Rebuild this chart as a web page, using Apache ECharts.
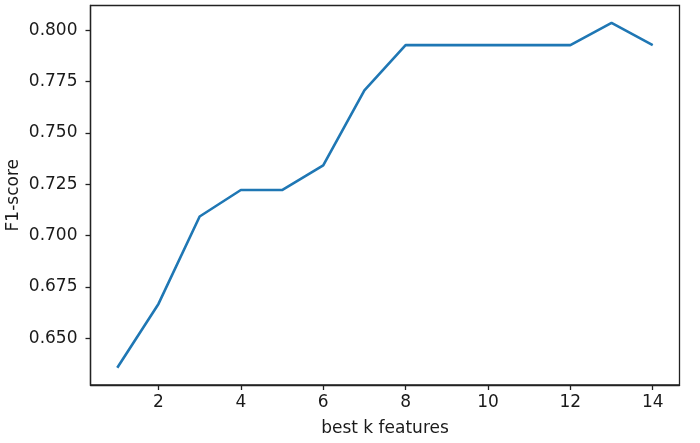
<!DOCTYPE html>
<html>
<head>
<meta charset="utf-8">
<script src="https://cdn.jsdelivr.net/npm/echarts@6/dist/echarts.min.js"></script>
<style>html,body{margin:0;padding:0;background:#fff;}#c{width:700px;height:443px;}</style>
</head>
<body>
<div id="c"></div>
<script>
const kValues = [1,2,3,4,5,6,7,8,9,10,11,12,13,14];
const f1Scores = [0.6356,0.6667,0.7093,0.7222,0.7222,0.7342,0.7708,0.7928,0.7928,0.7928,0.7928,0.7928,0.8036,0.7928];
const xTicks = [2,4,6,8,10,12,14];
const yTicks = [0.650,0.675,0.700,0.725,0.750,0.775,0.800];

const chart = echarts.init(document.getElementById('c'), null, {renderer:'canvas'});
const font = 'DejaVu Sans';
chart.setOption({
  animation: false,
  backgroundColor: '#fff',
  grid: {left: 90.5, top: 5.5, right: 20.5, bottom: 58, containLabel: false, outerBoundsMode: 'none',
    show: true, borderColor: '#222', borderWidth: 1.3, backgroundColor: 'transparent'},
  xAxis: {
    type: 'value', min: 0.35, max: 14.65,
    name: 'best k features', nameLocation: 'middle', nameGap: 35, nameMoveOverlap: false,
    nameTextStyle: {fontFamily: font, fontSize: 17, color: '#1a1a1a'},
    axisLine: {show: true, lineStyle: {color: '#222', width: 1.3}},
    axisTick: {show: true, length: 5, customValues: xTicks, lineStyle: {color: '#222', width: 1.3}},
    axisLabel: {customValues: xTicks, fontFamily: font, fontSize: 17, color: '#1a1a1a', margin: 9},
    splitLine: {show: false}
  },
  yAxis: {
    type: 'value', min: 0.6272, max: 0.8121,
    name: 'F1-score', nameLocation: 'middle', nameGap: 68, nameRotate: 90, nameMoveOverlap: false,
    nameTextStyle: {fontFamily: font, fontSize: 17, color: '#1a1a1a'},
    axisLine: {show: true, lineStyle: {color: '#222', width: 1.3}},
    axisTick: {show: true, length: 5, customValues: yTicks, lineStyle: {color: '#222', width: 1.3}},
    axisLabel: {customValues: yTicks, fontFamily: font, fontSize: 17, color: '#1a1a1a', margin: 13,
      formatter: v => v.toFixed(3)},
    splitLine: {show: false}
  },
  series: [{
    type: 'line',
    data: kValues.map((k, i) => [k, f1Scores[i]]),
    showSymbol: false,
    lineStyle: {color: '#1f77b4', width: 2.6},
    itemStyle: {color: '#1f77b4'}
  }]
});
</script>
</body>
</html>
